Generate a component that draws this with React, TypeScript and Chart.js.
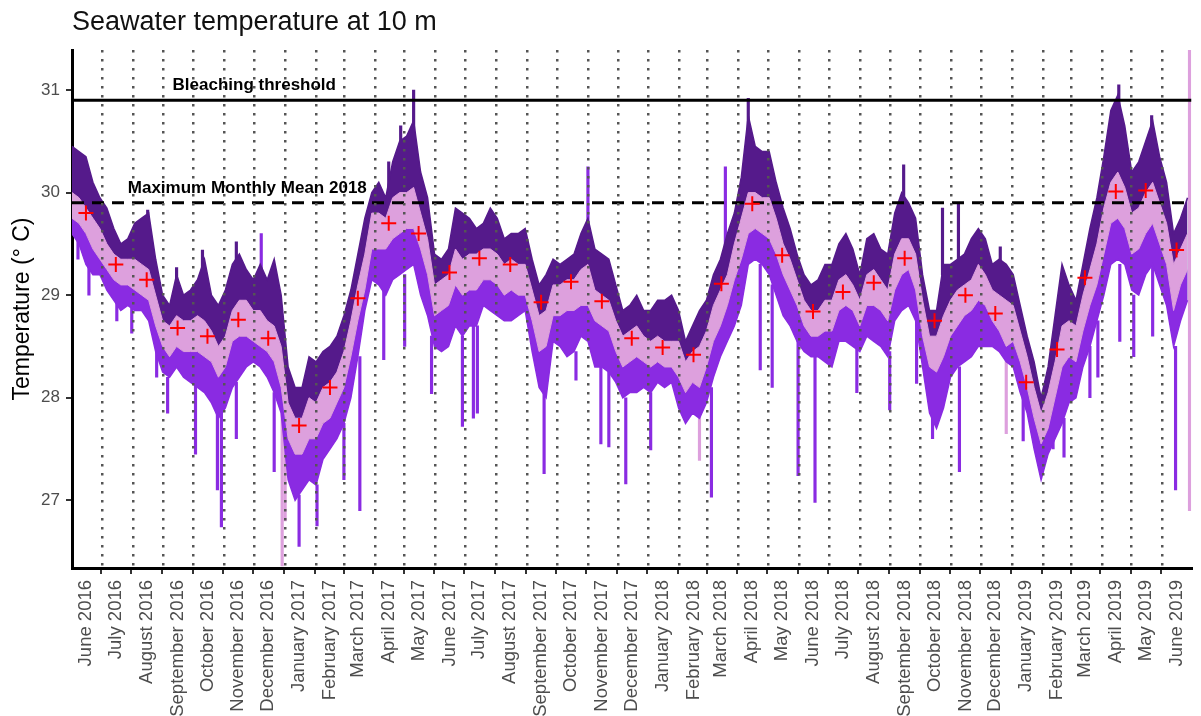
import React, { useEffect, useRef } from "react";
import { Chart, registerables } from "chart.js";

Chart.register(...registerables);

// ---------- DATA ----------
const monthLabels = [
  "June 2016", "July 2016", "August 2016", "September 2016", "October 2016", "November 2016", "December 2016",
  "January 2017", "February 2017", "March 2017", "April 2017", "May 2017", "June 2017", "July 2017",
  "August 2017", "September 2017", "October 2017", "November 2017", "December 2017",
  "January 2018", "February 2018", "March 2018", "April 2018", "May 2018", "June 2018", "July 2018",
  "August 2018", "September 2018", "October 2018", "November 2018", "December 2018",
  "January 2019", "February 2019", "March 2019", "April 2019", "May 2019", "June 2019",
];

const monthlyMean = [
  29.8, 29.3, 29.15, 28.68, 28.6, 28.76, 28.58,
  27.73, 28.1, 28.97, 29.7, 29.6, 29.22, 29.36,
  29.3, 28.93, 29.13, 28.94, 28.58,
  28.49, 28.42, 29.11, 29.89, 29.39, 28.84, 29.03,
  29.12, 29.36, 28.75, 29.0, 28.82,
  28.15, 28.47, 29.17, 30.01, 30.02, 29.44,
];

// weekly samples (every 7 days from 1 June 2016)
const maxTemp = [
  30.45, 30.4, 30.35, 30.1, 29.95, 29.85, 29.65, 29.5, 29.55, 29.7,
  29.75, 29.8, 29.35, 29.0, 28.9, 29.2, 29.0, 29.05, 29.15, 29.35,
  29.0, 28.9, 29.05, 29.3, 29.4, 29.25, 29.15, 29.3, 29.15, 29.35,
  29.0, 28.3, 28.1, 28.1, 28.4, 28.35, 28.45, 28.5, 28.6, 28.8,
  29.05, 29.4, 29.75, 30.0, 30.1, 29.95, 30.3, 30.5, 30.55, 30.7,
  30.2, 29.95, 29.4, 29.35, 29.45, 29.85, 29.8, 29.75, 29.65, 29.7,
  29.85, 29.75, 29.55, 29.6, 29.6, 29.65, 29.35, 29.1, 29.2, 29.35,
  29.3, 29.35, 29.4, 29.6, 29.75, 29.45, 29.4, 29.35, 29.1, 28.85,
  28.9, 29.0, 28.85, 28.85, 28.95, 28.95, 29.0, 28.85, 28.55, 28.7,
  28.85, 28.95, 29.2, 29.35, 29.6, 29.8, 30.15, 30.75, 30.45, 30.4,
  30.4, 30.1, 29.85, 29.65, 29.4, 29.2, 29.1, 29.15, 29.3, 29.3,
  29.5, 29.6, 29.45, 29.2, 29.55, 29.6, 29.45, 29.4, 29.8, 30.0,
  29.9, 29.75, 29.2, 28.85, 28.85, 29.3, 29.3, 29.35, 29.4, 29.55,
  29.65, 29.55, 29.3, 29.35, 29.3, 29.2, 28.9, 28.6, 28.35, 28.0,
  28.3, 28.8, 29.3, 29.1, 28.95, 29.3, 29.65, 29.95, 30.35, 30.8,
  30.95, 30.65, 30.2, 30.3, 30.5, 30.7, 30.35, 30.1, 29.6, 29.75,
  29.95,
];

const pinkHigh = [
  30.0, 29.95, 29.85, 29.75, 29.65, 29.5, 29.4, 29.35, 29.35, 29.35,
  29.3, 29.25, 29.0, 28.75, 28.7, 28.8, 28.75, 28.75, 28.8, 28.75,
  28.65, 28.5, 28.6, 28.85, 28.95, 28.95, 28.85, 28.85, 28.75, 28.7,
  28.5, 27.95, 27.8, 27.8, 28.0, 27.95, 28.1, 28.15, 28.25, 28.45,
  28.75, 29.1, 29.4, 29.8, 29.8, 29.75, 29.95, 30.0, 30.0, 30.05,
  29.8, 29.55, 29.1, 29.15, 29.2, 29.45, 29.35, 29.4, 29.4, 29.45,
  29.45, 29.4, 29.3, 29.35, 29.3, 29.3, 29.05, 28.8, 28.85, 29.1,
  29.1, 29.15, 29.15, 29.25, 29.3, 29.05, 29.0, 28.95, 28.75, 28.6,
  28.65, 28.7, 28.6, 28.55, 28.6, 28.55, 28.55, 28.55, 28.35, 28.45,
  28.5, 28.65, 28.9, 29.05, 29.2, 29.5, 29.75, 30.0, 30.0, 29.95,
  29.95, 29.75, 29.5, 29.35, 29.15, 28.95, 28.85, 28.85, 28.95, 28.95,
  29.15, 29.2, 29.1, 28.95, 29.2, 29.25, 29.15, 29.05, 29.4, 29.55,
  29.55, 29.4, 28.95, 28.6, 28.6, 28.8, 28.95, 29.05, 29.1, 29.15,
  29.3, 29.2, 29.05, 29.0, 28.95, 28.9, 28.65, 28.4, 28.1, 27.85,
  28.05, 28.35, 28.7, 28.75, 28.7, 29.0, 29.25, 29.5, 29.85, 30.1,
  30.2, 30.05, 29.8, 29.85, 30.0, 30.1, 29.9, 29.7, 29.3, 29.45,
  29.6,
];

const pinkLow = [
  29.75, 29.7, 29.6, 29.45, 29.35, 29.25, 29.15, 29.1, 29.1, 29.05,
  29.0, 28.95, 28.7, 28.5, 28.4, 28.5, 28.45, 28.45, 28.45, 28.4,
  28.35, 28.2, 28.3, 28.55, 28.6, 28.6, 28.55, 28.5, 28.45, 28.35,
  28.1, 27.6, 27.45, 27.45, 27.6, 27.6, 27.75, 27.8, 27.95, 28.1,
  28.4, 28.75, 29.05, 29.45, 29.45, 29.45, 29.55, 29.6, 29.65, 29.65,
  29.45, 29.2, 28.8, 28.85, 28.9, 29.1, 29.0, 29.05, 29.05, 29.15,
  29.15, 29.1, 29.0, 29.05, 29.0, 29.0, 28.75, 28.45, 28.5, 28.8,
  28.8, 28.85, 28.85, 28.9, 28.9, 28.75, 28.7, 28.65, 28.45, 28.3,
  28.35, 28.4, 28.35, 28.3, 28.35, 28.3, 28.3, 28.2, 28.05, 28.15,
  28.1, 28.3, 28.55, 28.7, 28.9, 29.15, 29.35, 29.6, 29.65, 29.6,
  29.55, 29.4, 29.2, 29.05, 28.9, 28.7, 28.6, 28.6, 28.65, 28.65,
  28.85, 28.9, 28.85, 28.7, 28.9, 28.9, 28.85, 28.75, 29.05, 29.2,
  29.25, 29.05, 28.6, 28.3, 28.25, 28.4, 28.6, 28.7, 28.8, 28.85,
  28.95, 28.9, 28.75, 28.65, 28.5, 28.55, 28.35, 28.1, 27.8, 27.55,
  27.7, 28.0, 28.3, 28.4, 28.35, 28.65, 28.9, 29.1, 29.4, 29.7,
  29.75, 29.65, 29.4, 29.45, 29.6, 29.7, 29.5, 29.3, 28.85, 29.1,
  29.25,
];

const minTemp = [
  29.6, 29.5, 29.3, 29.2, 29.2, 29.05, 28.95, 28.85, 28.9, 28.85,
  28.85, 28.75, 28.45, 28.25, 28.2, 28.3, 28.2, 28.15, 28.1, 28.05,
  27.95, 27.8, 27.9, 28.1, 28.2, 28.3, 28.35, 28.3, 28.2, 28.05,
  27.85, 27.2, 27.0, 27.1, 27.2, 27.15, 27.4, 27.5, 27.6, 27.75,
  28.0, 28.4, 28.85, 29.15, 29.1, 29.0, 29.15, 29.2, 29.25, 29.3,
  29.0, 28.8, 28.5, 28.45, 28.5, 28.7, 28.6, 28.7, 28.7, 28.9,
  28.85, 28.8, 28.75, 28.75, 28.8, 28.85, 28.45, 28.1, 28.0, 28.55,
  28.5, 28.4, 28.45, 28.6, 28.55, 28.3, 28.3, 28.25, 28.15, 28.0,
  28.05, 28.05, 28.1, 28.05, 28.15, 28.1, 28.15, 27.9, 27.75, 27.85,
  27.8, 27.95, 28.2, 28.4, 28.55, 28.7, 28.9, 29.3, 29.35, 29.3,
  29.2, 29.0, 28.8, 28.7, 28.55, 28.45, 28.4, 28.4, 28.35, 28.3,
  28.55, 28.55, 28.5, 28.45, 28.6, 28.55, 28.5, 28.4, 28.75, 28.85,
  28.9, 28.75, 28.3, 27.85, 27.7, 27.9, 28.2, 28.3, 28.35, 28.4,
  28.5, 28.5, 28.5, 28.45, 28.35, 28.3, 28.05, 27.85, 27.5, 27.2,
  27.45, 27.6, 27.75, 27.95, 28.0, 28.3, 28.5, 28.75, 29.0, 29.3,
  29.35, 29.3, 29.05, 29.0, 29.2, 29.3, 29.1, 28.9, 28.5, 28.75,
  28.95,
];

// short single-day excursions (day index, low, high)
const violetSpikeDays = [6, 17, 45, 60, 85, 96, 124, 146, 150, 165, 203, 228, 246, 273, 289, 313, 334, 361, 392, 403, 407, 474, 506, 531, 539, 556, 581, 642, 691, 703, 729, 746, 788, 821, 848, 864, 891, 955, 985, 996, 1022, 1030, 1052, 1066, 1085, 1108];
const violetSpikeLow = [29.35, 29.0, 28.75, 28.63, 28.2, 27.85, 27.45, 27.1, 26.74, 27.6, 27.28, 26.55, 26.75, 27.2, 26.9, 28.37, 28.5, 28.04, 27.72, 27.8, 27.85, 27.26, 28.17, 27.55, 27.52, 27.16, 27.49, 27.03, 28.27, 28.1, 27.24, 26.98, 28.05, 27.88, 28.14, 27.6, 27.28, 27.58, 27.5, 27.42, 28.0, 28.2, 28.55, 28.4, 28.6, 27.1];
const violetSpikeHigh = [29.55, 29.3, 28.95, 28.9, 28.45, 28.2, 28.15, 27.9, 27.9, 28.15, 28.05, 27.05, 27.15, 27.75, 28.4, 29.05, 29.2, 28.6, 28.6, 28.7, 28.7, 28.05, 28.45, 28.3, 28.25, 28.0, 28.05, 28.1, 29.3, 29.1, 28.55, 28.4, 28.5, 28.45, 28.75, 27.85, 28.3, 28.0, 27.7, 27.8, 28.5, 28.75, 29.3, 29.0, 29.3, 28.5];

const violetPeakDays = [190, 518, 656];
const violetPeakLow = [28.9, 29.4, 29.2];
const violetPeakHigh = [29.6, 30.25, 30.25];

const darkPeakDays = [76, 105, 131, 165, 318, 330, 343, 679, 835, 874, 890, 932, 1051, 1084];
const darkPeakLow = [29.5, 29.0, 29.1, 29.2, 29.9, 30.3, 30.3, 30.4, 29.8, 29.2, 29.3, 29.2, 30.6, 30.4];
const darkPeakHigh = [29.83, 29.27, 29.44, 29.52, 30.3, 30.65, 31.0, 30.92, 30.27, 29.85, 29.9, 29.47, 31.05, 30.75];

const pinkSpikeDays = [211, 214, 630, 938, 1122];
const pinkSpikeLow = [26.36, 26.8, 27.39, 27.65, 26.9];
const pinkSpikeHigh = [27.9, 27.9, 28.2, 28.5, 31.39];

const thresholdValues = [30.9, 29.9];
const thresholdLabels = ["Bleaching threshold", "Maximum Monthly Mean 2018"];
const thresholdLabelDays = [183, 176];
const thresholdLabelValues = [31.0, 30.0];

const yTicks = [27, 28, 29, 30, 31];
const yRange = [26.34, 31.39];
const xRange = [0, 1124];

// ---------- helpers (calendar -> day index) ----------
const START = Date.UTC(2016, 5, 1);
const dayOf = (y: number, m: number, d: number) => Math.round((Date.UTC(y, m, d) - START) / 86400000);
const tickDays = monthLabels.map((_, i) => dayOf(2016, 5 + i, 15));
const monthStartDays = monthLabels.slice(1).map((_, i) => dayOf(2016, 6 + i, 1));
const sampleDays = maxTemp.map((_, i) => i * 7);

const DARK = "#551A8B";
const VIOLET = "#8A2BE2";
const PINK = "#DDA0DD";
const FONT = '"Liberation Sans", Arial, Helvetica, sans-serif';

const series = (vals: number[]) => vals.map((v, i) => ({ x: sampleDays[i], y: v }));
const bars = (days: number[], lo: number[], hi: number[]) => days.map((d, i) => ({ x: d, y: [lo[i], hi[i]] }));

const labelPlugin = {
  id: "thresholdLabels",
  afterDraw(chart: any) {
    const { ctx, scales } = chart;
    const x = scales.x;
    const y = scales.y;
    ctx.save();
    ctx.font = `bold 17px ${FONT}`;
    ctx.fillStyle = "#000";
    ctx.textAlign = "center";
    ctx.textBaseline = "alphabetic";
    thresholdLabels.forEach((t, i) => {
      ctx.fillText(t, x.getPixelForValue(thresholdLabelDays[i]), y.getPixelForValue(thresholdLabelValues[i]));
    });
    ctx.restore();
  },
};

const noSidePadding = (s: any, h: number) => {
  s.height = h;
  s.paddingLeft = 0;
  s.paddingRight = 0;
};

export default function App() {
  const ref = useRef<HTMLCanvasElement>(null);

  useEffect(() => {
    if (!ref.current) return;
    Chart.defaults.font.family = FONT;
    const chart = new Chart(ref.current, {
      type: "line",
      data: {
        datasets: [
          {
            label: "Monthly mean",
            data: tickDays.map((d, i) => ({ x: d, y: monthlyMean[i] })),
            showLine: false,
            pointStyle: "cross",
            pointRadius: 7.5,
            pointBorderWidth: 2,
            borderColor: "#FF0000",
            backgroundColor: "#FF0000",
          },
          {
            label: "Bleaching threshold",
            data: xRange.map((d) => ({ x: d, y: thresholdValues[0] })),
            borderColor: "#000",
            borderWidth: 3,
            pointRadius: 0,
          },
          {
            label: "MMM",
            data: xRange.map((d) => ({ x: d, y: thresholdValues[1] })),
            borderColor: "#000",
            borderWidth: 3,
            borderDash: [12, 8],
            pointRadius: 0,
          },
          {
            label: "pinkHigh",
            data: series(pinkHigh),
            borderColor: PINK,
            backgroundColor: PINK,
            borderWidth: 1,
            pointRadius: 0,
            fill: 4,
          },
          {
            label: "pinkLow",
            data: series(pinkLow),
            borderColor: PINK,
            borderWidth: 1,
            pointRadius: 0,
            fill: false,
          },
          {
            label: "min",
            data: series(minTemp),
            borderColor: VIOLET,
            backgroundColor: VIOLET,
            borderWidth: 1.5,
            pointRadius: 0,
            fill: 4,
          },
          {
            label: "max",
            data: series(maxTemp),
            borderColor: DARK,
            backgroundColor: DARK,
            borderWidth: 1.5,
            pointRadius: 0,
            fill: 5,
          },
          {
            type: "bar",
            label: "violet spikes",
            data: bars(violetSpikeDays, violetSpikeLow, violetSpikeHigh),
            backgroundColor: VIOLET,
            barThickness: 2.5,
            grouped: false,
          },
          {
            type: "bar",
            label: "violet peaks",
            data: bars(violetPeakDays, violetPeakLow, violetPeakHigh),
            backgroundColor: VIOLET,
            barThickness: 2.5,
            grouped: false,
          },
          {
            type: "bar",
            label: "dark peaks",
            data: bars(darkPeakDays, darkPeakLow, darkPeakHigh),
            backgroundColor: DARK,
            barThickness: 2.5,
            grouped: false,
          },
          {
            type: "bar",
            label: "pink spikes",
            data: bars(pinkSpikeDays, pinkSpikeLow, pinkSpikeHigh),
            backgroundColor: PINK,
            barThickness: 2.5,
            grouped: false,
          },
        ] as any,
      },
      options: {
        animation: false,
        responsive: false,
        devicePixelRatio: 1,
        layout: { padding: 0 },
        plugins: {
          legend: { display: false },
          tooltip: { enabled: false },
          title: {
            display: true,
            text: "Seawater temperature at 10 m",
            align: "start",
            fullSize: false,
            color: "#111",
            font: { size: 27, weight: "normal" as any, family: FONT },
            padding: { top: 6, bottom: 11.6 },
          },
        },
        scales: {
          x: {
            type: "linear",
            min: xRange[0],
            max: xRange[1],
            offset: false,
            position: "bottom",
            afterBuildTicks: (s: any) => {
              s.ticks = tickDays.map((v) => ({ value: v }));
            },
            afterFit: (s: any) => noSidePadding(s, 148),
            ticks: {
              autoSkip: false,
              minRotation: 90,
              maxRotation: 90,
              padding: 6,
              color: "#4D4D4D",
              font: { size: 18.5 },
              callback: (_v: any, i: number) => monthLabels[i],
            },
            grid: { display: true, drawOnChartArea: false, drawTicks: true, tickLength: 6, color: "#333", lineWidth: 2 },
            border: { display: true, color: "#000", width: 3 },
          },
          x2: {
            type: "linear",
            min: xRange[0],
            max: xRange[1],
            offset: false,
            position: "bottom",
            afterBuildTicks: (s: any) => {
              s.ticks = monthStartDays.map((v) => ({ value: v }));
            },
            afterFit: (s: any) => noSidePadding(s, 0),
            ticks: { display: false },
            grid: { display: true, drawOnChartArea: true, drawTicks: false, color: "#555", lineWidth: 2.5, z: 1 } as any,
            border: { display: false, dash: [2.5, 6.5] },
          },
          y: {
            type: "linear",
            min: yRange[0],
            max: yRange[1],
            afterBuildTicks: (s: any) => {
              s.ticks = yTicks.map((v) => ({ value: v }));
            },
            afterFit: (s: any) => {
              s.width = 72;
              s.paddingTop = 0;
              s.paddingBottom = 0;
            },
            ticks: { color: "#4D4D4D", font: { size: 17 }, padding: 6 },
            grid: { display: true, drawOnChartArea: false, drawTicks: true, tickLength: 6, color: "#333", lineWidth: 2 },
            border: { display: true, color: "#000", width: 3 },
            title: {
              display: true,
              text: "Temperature (° C)",
              color: "#000",
              font: { size: 23 },
              padding: { top: 9, bottom: 0 },
            },
          },
        },
      } as any,
      plugins: [labelPlugin],
    });
    return () => chart.destroy();
  }, []);

  return (
    <div style={{ position: "fixed", left: 0, top: 0, width: 1201, height: 716, overflow: "hidden", background: "#fff" }}>
      <canvas ref={ref} width={1201} height={716} style={{ display: "block" }} />
    </div>
  );
}
